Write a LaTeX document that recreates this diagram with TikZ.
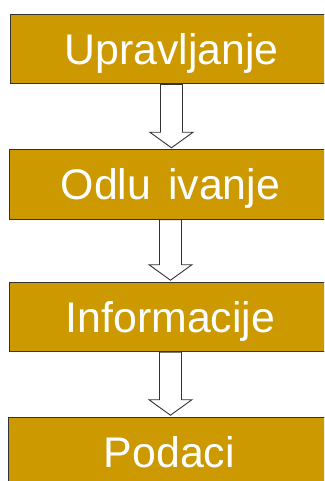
\documentclass[tikz,border=0pt]{standalone}
\usepackage{fontspec}
\setmainfont{Liberation Sans}
\usetikzlibrary{calc}
\definecolor{zlato}{RGB}{204,153,0}
\definecolor{rub}{RGB}{51,51,51}
\tikzset{
  kutija/.style={draw=rub, line width=0.9pt, fill=zlato, text=white,
    font=\fontsize{43}{43}\selectfont, text height=31pt, text depth=0pt,
    minimum width=322bp, minimum height=69.5bp, inner sep=0pt, anchor=north west},
  strelica/.style={draw=rub, line width=0.9pt, fill=white, line join=miter}
}
% block arrow from the bottom of one box to the top of the next
\def\blokstrelica(#1)(#2){\draw[strelica]
  ($(#1.south)+(-11bp,0)$) -- ($(#1.south |- #2.north)+(-11bp,17bp)$)
  -- ($(#1.south |- #2.north)+(-21.5bp,17bp)$) -- ($(#1.south |- #2.north)+(0,1.5bp)$)
  -- ($(#1.south |- #2.north)+(21.5bp,17bp)$) -- ($(#1.south |- #2.north)+(11bp,17bp)$)
  -- ($(#1.south)+(11bp,0)$) -- cycle;}

\begin{document}
\begin{tikzpicture}[x=1bp, y=-1bp]
	%%%%% START %%%%%
	\fill[white] (0, 0) rectangle (324, 481);
	\useasboundingbox (0, 0) rectangle (324, 481);
	\clip (0, 0) rectangle (324, 481);
	
	\node[kutija] (upr) at (10, 14) {Upravljanje};
	\node[kutija] (odl) at (9, 149.3) {Odlu\hspace{0.4em}ivanje};
	\node[kutija] (inf) at (9, 281.7) {Informacije};
	\node[kutija] (pod) at (8, 416.7) {Podaci};
	
	\blokstrelica(upr)(odl)
	\blokstrelica(odl)(inf)
	\blokstrelica(inf)(pod)
	%%%%% END %%%%%
\end{tikzpicture}
\end{document}
